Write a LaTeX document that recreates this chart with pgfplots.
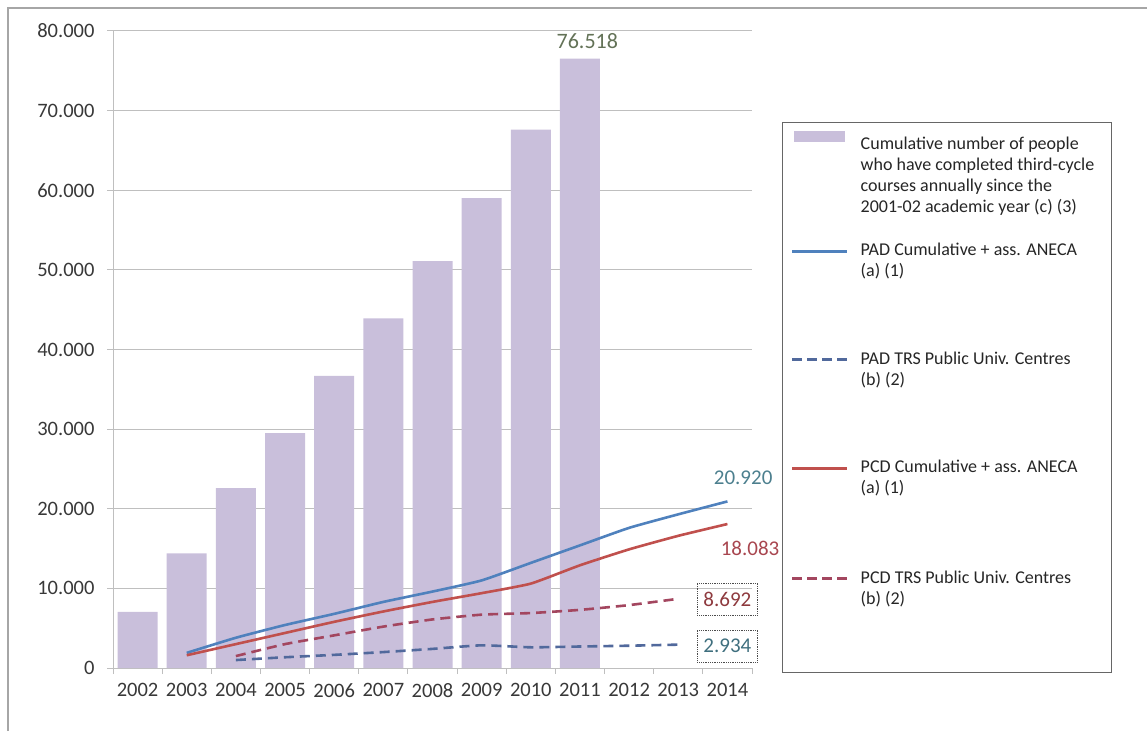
\documentclass[border=0pt]{standalone}
\usepackage{pgfplots}
\pgfplotsset{compat=1.18}
\usepackage{fontspec}
\setmainfont{Carlito}
\definecolor{barcol}{HTML}{C9BFDB}
\definecolor{padcol}{HTML}{4F81BD}
\definecolor{pcdcol}{HTML}{C0504D}
\definecolor{paddash}{HTML}{51699C}
\definecolor{pcddash}{HTML}{A3465F}
\definecolor{gridcol}{HTML}{BFBFBF}
\definecolor{framecol}{HTML}{A6A6A6}
\definecolor{lbl76}{HTML}{637257}
\definecolor{lbl20}{HTML}{4C7F8E}
\definecolor{lbl18}{HTML}{A8464F}
\definecolor{lbl8}{HTML}{8E3A3E}
\definecolor{lbl2}{HTML}{3F6F7E}
\newcommand{\LE}[1]{\hspace*{10pt}\makebox[243pt][l]{\rule[-5pt]{0pt}{24.5pt}#1}}
\newcommand{\LL}[1]{\addlegendimage{empty legend}\addlegendentry{\LE{#1}}}
\newcommand{\LG}[1]{\addlegendimage{empty legend}\addlegendentry{\rule{0pt}{#1}}}
\begin{document}
\begin{tikzpicture}[x=1pt,y=1pt]
\useasboundingbox (0,0) rectangle (1147,731);
\draw[framecol, line width=1.2pt] (8,0) -- (8,723) -- (1147,723);
\begin{axis}[
  at={(113pt,63pt)}, anchor=south west,
  scale only axis, width=639pt, height=637pt,
  xmin=-0.5, xmax=12.5, ymin=0, ymax=80000,
  axis x line*=bottom, axis y line*=left,
  axis line style={gridcol, line width=1pt},
  xtick={0,1,2,3,4,5,6,7,8,9,10,11,12},
  xticklabels={2002,2003,2004,2005,2006,2007,2008,2009,2010,2011,2012,2013,2014},
  minor xtick={-0.5,0.5,1.5,2.5,3.5,4.5,5.5,6.5,7.5,8.5,9.5,10.5,11.5,12.5},
  major x tick style={draw=none},
  minor x tick style={gridcol, line width=1pt},
  y tick style={gridcol, line width=1pt},
  tick align=outside,
  major tick length=6pt, minor tick length=6pt,
  ytick={0,10000,20000,30000,40000,50000,60000,70000,80000},
  scaled y ticks=false,
  ymajorgrids, grid style={gridcol, line width=1pt},
  tick label style={font=\fontsize{20.5}{24}\selectfont, text=black!78},
  yticklabel style={xshift=-9pt},
  xticklabel style={yshift=-6pt},
  /pgf/number format/.cd, 1000 sep={.}, assume math mode=true,
  /pgfplots/.cd,
  clip=false,
  legend style={at={(1.0469,0.857)}, anchor=north west, draw=black!60, line width=0.9pt,
    fill=white, inner xsep=6pt, inner ysep=3pt, row sep=0pt,
    nodes={inner ysep=0pt},
    font=\fontsize{18}{21}\selectfont, text=black!85},
  legend cell align=left,
]
\LG{2.75pt}
\addplot[ybar, bar width=40pt, fill=barcol, draw=none,
  legend image code/.code={\fill[barcol] (6pt,-2pt) rectangle (57pt,9pt);}]
  coordinates {(0,7040) (1,14400) (2,22600) (3,29500) (4,36700) (5,43900) (6,51100) (7,59000) (8,67600) (9,76518)};
\addlegendentry{\LE{Cumulative number of people}}
\LL{who have completed third-cycle}
\LL{courses annually since the}
\LL{2001-02 academic year (c) (3)}
\LG{21pt}
\addplot[padcol, line width=2.6pt, smooth, tension=0.3,
  legend image code/.code={\draw[padcol, line width=2.6pt] (4pt,-4.5pt) -- (59pt,-4.5pt);}]
  coordinates {(1,1900) (2,3800) (3,5400) (4,6800) (5,8300) (6,9600) (7,11000) (8,13200) (9,15400) (10,17600) (11,19300) (12,20920)};
\addlegendentry{\LE{PAD Cumulative + ass. ANECA}}
\LL{(a) (1)}
\LG{65pt}
\addplot[paddash, line width=2.6pt, dash pattern=on 10pt off 6pt, smooth, tension=0.3,
  legend image code/.code={\draw[paddash, line width=2.6pt, dash pattern=on 10pt off 5pt] (4pt,-4.5pt) -- (59pt,-4.5pt);}]
  coordinates {(2,1000) (3,1350) (4,1650) (5,2000) (6,2400) (7,2850) (8,2600) (9,2700) (10,2800) (11,2934)};
\addlegendentry{\LE{PAD TRS Public Univ. Centres}}
\LL{(b) (2)}
\LG{65pt}
\addplot[pcdcol, line width=2.6pt, smooth, tension=0.3,
  legend image code/.code={\draw[pcdcol, line width=2.6pt] (4pt,-4.5pt) -- (59pt,-4.5pt);}]
  coordinates {(1,1600) (2,3000) (3,4400) (4,5800) (5,7100) (6,8300) (7,9400) (8,10600) (9,12900) (10,14900) (11,16600) (12,18083)};
\addlegendentry{\LE{PCD Cumulative + ass. ANECA}}
\LL{(a) (1)}
\LG{67pt}
\addplot[pcddash, line width=2.6pt, dash pattern=on 10pt off 6pt, smooth, tension=0.3,
  legend image code/.code={\draw[pcddash, line width=2.6pt, dash pattern=on 10pt off 5pt] (4pt,-4.5pt) -- (59pt,-4.5pt);}]
  coordinates {(2,1500) (3,3000) (4,4100) (5,5200) (6,6100) (7,6700) (8,6900) (9,7300) (10,7900) (11,8692)};
\addlegendentry{\LE{PCD TRS Public Univ. Centres}}
\LL{(b) (2)}
\LG{62pt}
\node[text=lbl76, font=\fontsize{22}{26}\selectfont, anchor=south] at (axis cs:9.15,77300) {76.518};
\node[text=lbl20, font=\fontsize{21}{24}\selectfont] at (axis cs:12.32,23860) {20.920};
\node[text=lbl18, font=\fontsize{21}{24}\selectfont] at (axis cs:12.46,15070) {18.083};
\node[text=lbl8, font=\fontsize{21}{24}\selectfont, draw=black!70, densely dotted, line width=0.8pt, minimum width=60pt, minimum height=32pt] at (axis cs:12.0,8670) {8.692};
\node[text=lbl2, font=\fontsize{21}{24}\selectfont, draw=black!70, densely dotted, line width=0.8pt, minimum width=60pt, minimum height=32pt] at (axis cs:12.0,2760) {2.934};
\end{axis}
\end{tikzpicture}
\end{document}
